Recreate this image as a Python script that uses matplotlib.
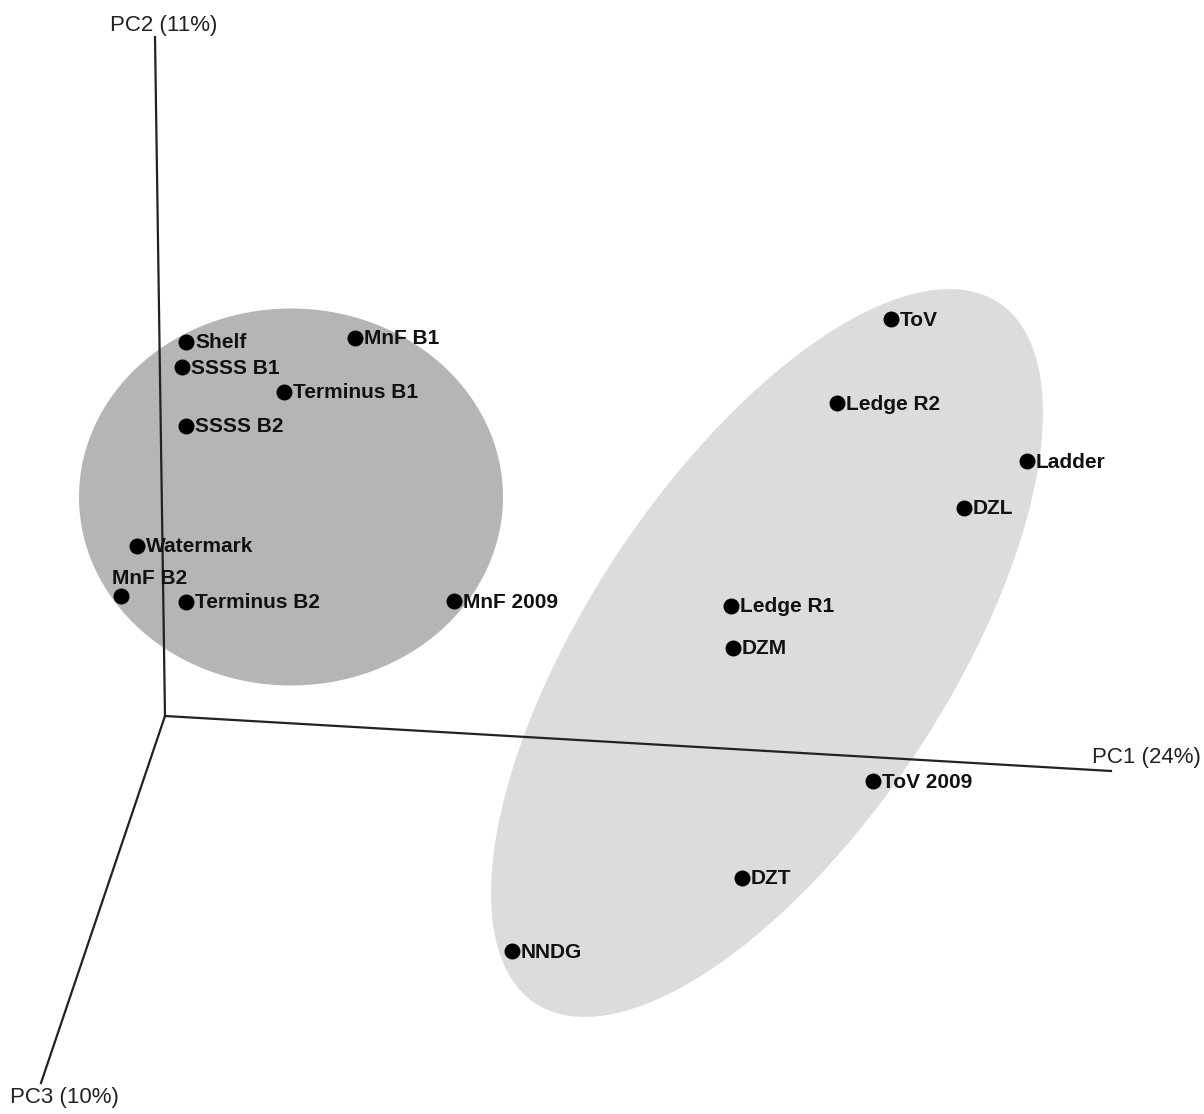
"""PCA ordination of sampling sites, drawn as a pseudo-3D projection."""
import matplotlib
matplotlib.use("Agg")
import matplotlib.pyplot as plt
from matplotlib.patches import Ellipse

plt.rcParams["font.family"] = ["Liberation Sans", "DejaVu Sans"]

# projected site coordinates (screen space of the 3D view)
sites = ["Shelf", "SSSS B1", "Terminus B1", "SSSS B2", "MnF B1", "Watermark",
         "MnF B2", "Terminus B2", "MnF 2009", "ToV", "Ledge R2", "Ladder", "DZL",
         "Ledge R1", "DZM", "ToV 2009", "DZT", "NNDG"]
px = [186, 182, 284, 186, 355, 137, 121, 186, 454, 891, 837, 1027, 964,
      731, 733, 873, 742, 512]
py = [342, 367, 392, 426, 338, 546, 596, 602, 601, 319, 403, 461, 508,
      606, 648, 781, 878, 951]

# axis end points in the same projected space
origin = (165, 716)
axis_ends = {"PC1 (24%)": (1111, 771), "PC2 (11%)": (155, 37), "PC3 (10%)": (41, 1083)}


def main():
    fig = plt.figure(figsize=(12.04, 11.14), dpi=100)
    ax = fig.add_axes([0, 0, 1, 1])
    ax.set_xlim(0, 1204)
    ax.set_ylim(1114, 0)
    ax.axis("off")

    # group hulls
    ax.add_patch(Ellipse((291, 497), 424, 377, facecolor="#b5b5b5", edgecolor="none", zorder=1))
    ax.add_patch(Ellipse((767, 653), 840, 359, angle=-56.5, facecolor="#dcdcdc",
                         edgecolor="none", zorder=1))

    # axes
    for name, (ex, ey) in axis_ends.items():
        ax.plot([origin[0], ex], [origin[1], ey], color="#222222", lw=1.6, zorder=2)
    ax.text(110, 26, "PC2 (11%)", fontsize=16, ha="left", va="center", color="#222222")
    ax.text(1092, 757, "PC1 (24%)", fontsize=16, ha="left", va="center", color="#222222")
    ax.text(10, 1098, "PC3 (10%)", fontsize=16, ha="left", va="center", color="#222222")

    ax.scatter(px, py, s=110, color="black", zorder=3)
    for name, x, y in zip(sites, px, py):
        if name == "MnF B2":
            ax.text(x - 9, y - 18, name, fontsize=15, fontweight="bold", ha="left",
                    va="center", color="#111111", zorder=4)
        else:
            ax.text(x + 9, y + 1, name, fontsize=15, fontweight="bold", ha="left",
                    va="center", color="#111111", zorder=4)

    fig.savefig("out.png", dpi=100)
    plt.close(fig)


if __name__ == "__main__":
    main()
